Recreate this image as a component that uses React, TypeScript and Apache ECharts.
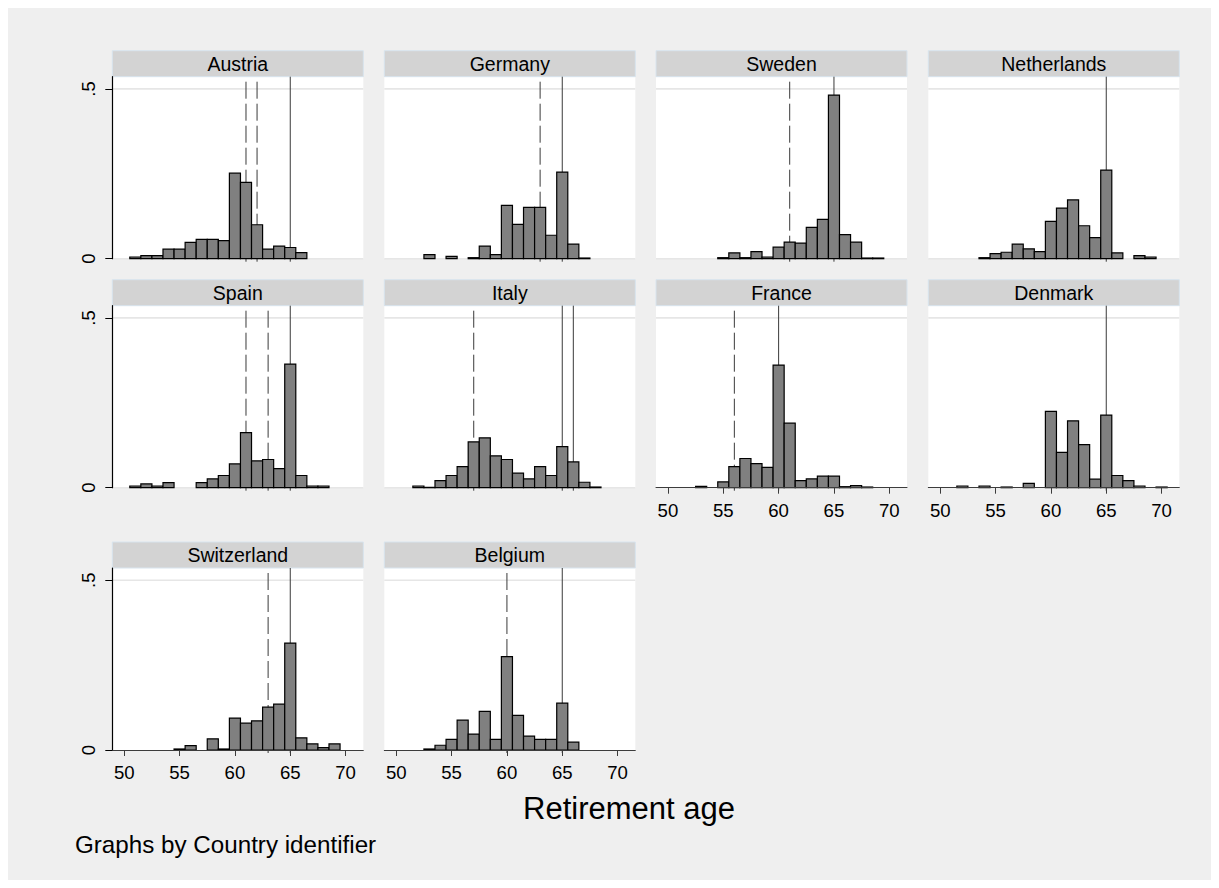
import React, { useEffect, useRef } from "react";
import * as echarts from "echarts";

// ---------- data ----------
const AGES = [50, 51, 52, 53, 54, 55, 56, 57, 58, 59, 60, 61, 62, 63, 64, 65, 66, 67, 68, 69, 70];
const X_TICKS = [50, 55, 60, 65, 70];
const Y_TICKS = [0, 0.5];

const COUNTRIES = ["Austria", "Germany", "Sweden", "Netherlands", "Spain", "Italy", "France", "Denmark", "Switzerland", "Belgium"];

//                    50    51     52     53     54     55     56     57     58     59     60     61     62     63     64     65     66     67     68     69     70
const austria =     [null, 0.005, 0.009, 0.009, 0.028, 0.028, 0.048, 0.057, 0.057, 0.053, 0.252, 0.225, 0.100, 0.028, 0.037, 0.033, 0.018, null,  null,  null,  null];
const germany =     [null, null,  null,  0.012, null,  0.007, null,  0.003, 0.037, 0.012, 0.157, 0.101, 0.151, 0.151, 0.069, 0.255, 0.043, 0.002, null,  null,  null];
const sweden =      [null, null,  null,  null,  null,  0.003, 0.017, 0.003, 0.021, 0.005, 0.034, 0.049, 0.046, 0.092, 0.116, 0.482, 0.071, 0.049, 0.002, 0.002, null];
const netherlands = [null, null,  null,  null,  0.003, 0.015, 0.019, 0.043, 0.029, 0.021, 0.110, 0.149, 0.173, 0.097, 0.062, 0.261, 0.017, null,  0.009, 0.005, null];
const spain =       [null, 0.005, 0.011, 0.005, 0.015, null,  null,  0.015, 0.026, 0.036, 0.070, 0.162, 0.079, 0.083, 0.056, 0.364, 0.036, 0.005, 0.005, null,  null];
const italy =       [null, null,  0.005, 0.001, 0.021, 0.036, 0.062, 0.135, 0.147, 0.094, 0.083, 0.043, 0.026, 0.062, 0.036, 0.121, 0.076, 0.016, 0.002, null,  null];
const france =      [null, null,  null,  0.004, null,  0.017, 0.062, 0.086, 0.071, 0.060, 0.361, 0.190, 0.021, 0.026, 0.034, 0.034, 0.003, 0.006, 0.002, null,  null];
const denmark =     [null, null,  0.005, null,  0.005, null,  0.002, null,  0.013, null,  0.225, 0.104, 0.197, 0.127, 0.025, 0.214, 0.036, 0.021, 0.005, null,  0.002];
const switzerland = [null, null,  null,  null,  null,  0.003, 0.013, null,  0.033, 0.003, 0.094, 0.079, 0.086, 0.126, 0.135, 0.315, 0.036, 0.018, 0.007, 0.018, null];
const belgium =     [null, null,  null,  0.003, 0.014, 0.031, 0.088, 0.047, 0.114, 0.031, 0.275, 0.102, 0.041, 0.031, 0.031, 0.138, 0.023, null,  null,  null,  null];

const DENSITIES = [austria, germany, sweden, netherlands, spain, italy, france, denmark, switzerland, belgium];

// dashed reference lines (early retirement age) and solid lines (normal retirement age)
const EARLY_AGES = [[61, 62], [63], [61], [], [61, 63], [57], [56], [], [63], [60]];
const NORMAL_AGES = [[65], [65], [65], [65], [65], [65, 66], [60], [65], [65], [65]];

const X_TITLE = "Retirement age";
const NOTE = "Graphs by Country identifier";

// ---------- layout ----------
const X_MIN = 48.92;
const X_MAX = 71.6;
const Y_MAX = 0.536;
const COL_LEFT = [104.3, 376.3, 648.0, 920.3];
const ROW_TOP = [68.7, 297.7, 560.0];
const PW = 251;
const PH = 182;
const STRIP_H = 26;
const AXIS_PANELS = [6, 7, 8, 9];
const FONT = '"Liberation Sans", Arial, Helvetica, sans-serif';

function buildOption() {
  const grids: any[] = [];
  const xAxes: any[] = [];
  const yAxes: any[] = [];
  const series: any[] = [];
  const graphics: any[] = [];

  COUNTRIES.forEach((name, i) => {
    const row = Math.floor(i / 4);
    const col = i % 4;
    const left = COL_LEFT[col];
    const top = ROW_TOP[row];
    const hasX = AXIS_PANELS.includes(i);
    const hasY = col === 0;

    grids.push({
      left,
      top,
      width: PW,
      height: PH,
      show: true,
      backgroundColor: "#ffffff",
      borderWidth: 0,
      containLabel: false,
    });

    xAxes.push({
      gridIndex: i,
      type: "value",
      min: X_MIN,
      max: X_MAX,
      show: hasX,
      z: 5,
      axisLine: { show: hasX, onZero: false, lineStyle: { color: "#3c3c3c", width: 1 } },
      axisTick: { show: hasX, length: 6, customValues: X_TICKS, lineStyle: { color: "#3c3c3c", width: 1 } },
      axisLabel: {
        show: hasX,
        customValues: X_TICKS,
        fontSize: 18.6,
        color: "#000",
        margin: 13,
        fontFamily: FONT,
      },
      splitLine: { show: false },
    });

    yAxes.push({
      gridIndex: i,
      type: "value",
      min: 0,
      max: Y_MAX,
      show: hasY,
      z: 5,
      axisLine: { show: hasY, onZero: false, lineStyle: { color: "#000", width: 1.2 } },
      axisTick: { show: hasY, length: 7, customValues: Y_TICKS, lineStyle: { color: "#000", width: 1 } },
      axisLabel: {
        show: hasY,
        customValues: Y_TICKS,
        rotate: 90,
        fontSize: 18.6,
        color: "#000",
        margin: 14,
        fontFamily: FONT,
        formatter: (v: number) => (v === 0 ? "0" : ".5"),
      },
      splitLine: { show: false },
    });

    // grid lines (.5 and baseline 0)
    const gridVals = hasX ? [0.5] : [0.5, 0];
    series.push({
      type: "custom",
      xAxisIndex: i,
      yAxisIndex: i,
      silent: true,
      z: 1,
      data: gridVals.map((v) => [X_MIN, v]),
      encode: { x: 0, y: 1 },
      renderItem: (params: any, api: any) => {
        const v = api.value(1);
        const p0 = api.coord([X_MIN, v]);
        const p1 = api.coord([X_MAX, v]);
        return {
          type: "line",
          shape: { x1: p0[0], y1: p0[1], x2: p1[0], y2: p1[1] },
          style: { stroke: "#e6e6e6", lineWidth: 1.6 },
        };
      },
    });

    // solid lines
    series.push({
      type: "custom",
      xAxisIndex: i,
      yAxisIndex: i,
      silent: true,
      z: 2,
      data: NORMAL_AGES[i].map((a) => [a, 0]),
      encode: { x: 0, y: 1 },
      renderItem: (params: any, api: any) => {
        const a = api.value(0);
        const p0 = api.coord([a, Y_MAX]);
        const p1 = api.coord([a, 0]);
        return {
          type: "line",
          shape: { x1: p0[0], y1: p0[1], x2: p1[0], y2: p1[1] + 3 },
          style: { stroke: "#3a3a3a", lineWidth: 1 },
        };
      },
    });

    // dashed lines
    series.push({
      type: "custom",
      xAxisIndex: i,
      yAxisIndex: i,
      silent: true,
      z: 2,
      data: EARLY_AGES[i].map((a) => [a, 0]),
      encode: { x: 0, y: 1 },
      renderItem: (params: any, api: any) => {
        const a = api.value(0);
        const p0 = api.coord([a, Y_MAX]);
        const p1 = api.coord([a, 0]);
        return {
          type: "line",
          shape: { x1: p0[0], y1: p0[1], x2: p1[0], y2: p1[1] + 3 },
          style: { stroke: "#3a3a3a", lineWidth: 1, lineDash: [17, 5], lineDashOffset: 17 },
        };
      },
    });

    // histogram bars
    const barData: any[] = [];
    DENSITIES[i].forEach((d, k) => {
      if (d !== null) barData.push([AGES[k], d]);
    });
    series.push({
      type: "custom",
      name: name,
      xAxisIndex: i,
      yAxisIndex: i,
      silent: true,
      z: 3,
      data: barData,
      encode: { x: 0, y: 1 },
      renderItem: (params: any, api: any) => {
        const a = api.value(0);
        const v = api.value(1);
        const p0 = api.coord([a - 0.5, 0]);
        const p1 = api.coord([a + 0.5, v]);
        return {
          type: "rect",
          shape: { x: p0[0], y: p1[1], width: p1[0] - p0[0], height: p0[1] - p1[1] },
          style: { fill: "#808080", stroke: "#000", lineWidth: 1.2 },
        };
      },
    });

    // strip
    graphics.push({
      type: "rect",
      shape: { x: left, y: top - STRIP_H, width: PW, height: STRIP_H },
      style: { fill: "#d3d3d3", stroke: "#d8e4ee", lineWidth: 1 },
      silent: true,
    });
    graphics.push({
      type: "text",
      x: left + PW / 2,
      y: top - STRIP_H / 2,
      style: {
        text: name,
        fontSize: 19.5,
        fontFamily: FONT,
        fill: "#000",
        align: "center",
        verticalAlign: "middle",
      },
      silent: true,
    });
  });

  graphics.push({
    type: "text",
    x: 621,
    y: 800,
    style: {
      text: X_TITLE,
      fontSize: 31,
      fontFamily: FONT,
      fill: "#000",
      align: "center",
      verticalAlign: "middle",
    },
    silent: true,
  });
  graphics.push({
    type: "text",
    x: 67,
    y: 836,
    style: {
      text: NOTE,
      fontSize: 24.2,
      fontFamily: FONT,
      fill: "#000",
      align: "left",
      verticalAlign: "middle",
    },
    silent: true,
  });

  return {
    animation: false,
    backgroundColor: "#efefef",
    textStyle: { fontFamily: FONT },
    grid: grids,
    xAxis: xAxes,
    yAxis: yAxes,
    series,
    graphic: graphics,
  };
}

export default function App() {
  const ref = useRef<HTMLDivElement>(null);
  useEffect(() => {
    if (!ref.current) return;
    const chart = echarts.init(ref.current, undefined, { renderer: "svg" });
    chart.setOption(buildOption() as any);
    return () => {
      chart.dispose();
    };
  }, []);
  return <div ref={ref} style={{ width: 1203, height: 872 }} />;
}
